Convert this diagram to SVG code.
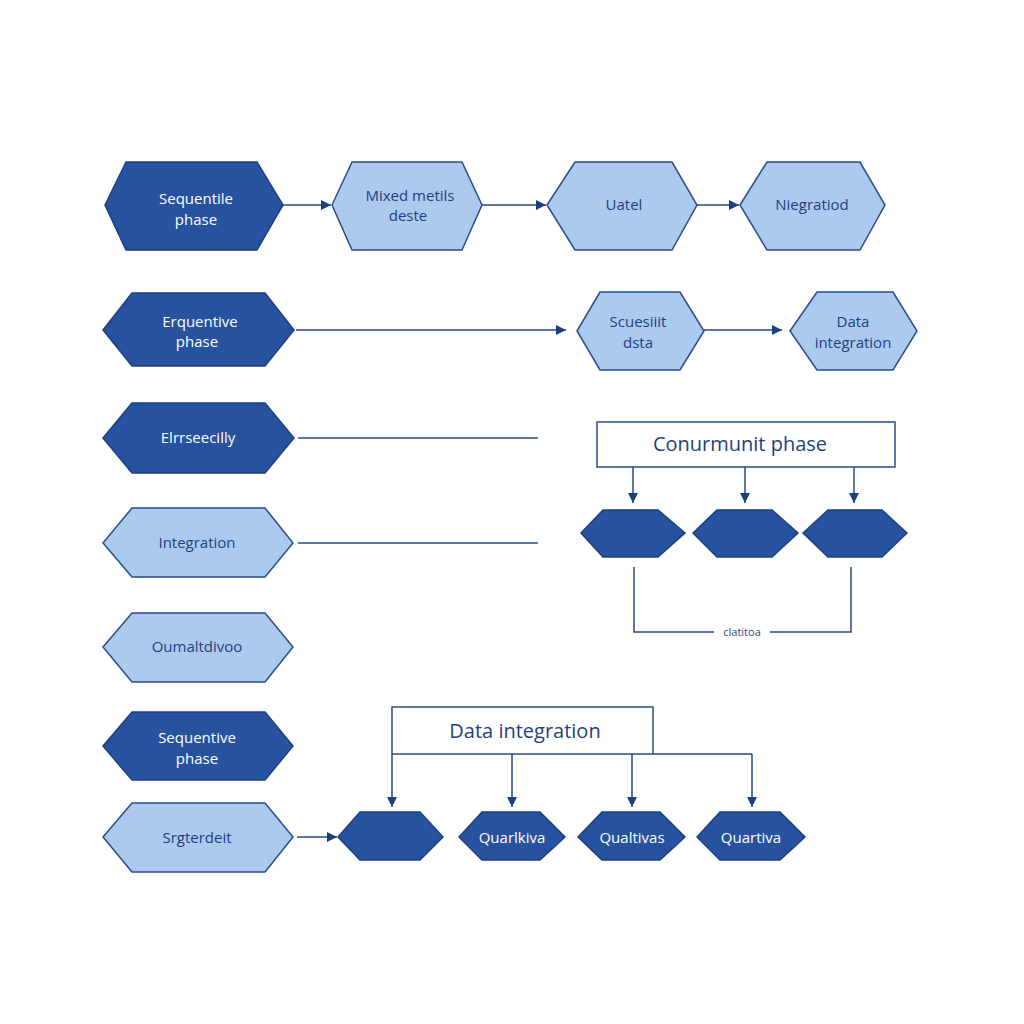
<svg xmlns="http://www.w3.org/2000/svg" width="1024" height="1024" viewBox="0 0 1024 1024">
<defs>
<style>
.dk{fill:#27529f;stroke:#1d3f82;stroke-width:1.5}
.lt{fill:#acc9ee;stroke:#2a4c8c;stroke-width:1.5}
.tw{fill:#ffffff;font-family:"Open Sans","Noto Sans",sans-serif;font-size:15px;text-anchor:middle}
.tb{fill:#253f7e;font-family:"Open Sans","Noto Sans",sans-serif;font-size:15px;text-anchor:middle}
.box{fill:#ffffff;stroke:#2a4c8c;stroke-width:1.5}
.bt{fill:#253f7e;font-family:"Open Sans","Noto Sans",sans-serif;font-size:20px;text-anchor:middle}
.cn{fill:none;stroke:#2a4880;stroke-width:1.5}
.ca{fill:none;stroke:#2a4880;stroke-width:1.5;marker-end:url(#ah)}
</style>
<marker id="ah" viewBox="0 0 10 10" refX="10" refY="5" markerWidth="10" markerHeight="10" markerUnits="userSpaceOnUse" orient="auto">
<path d="M0,0 L10,5 L0,10 z" fill="#1d3f82"/>
</marker>
</defs>
<rect width="1024" height="1024" fill="#ffffff"/>

<g id="connectors">
<line class="ca" x1="283" y1="205" x2="331" y2="205"/>
<line class="ca" x1="482" y1="205" x2="546" y2="205"/>
<line class="ca" x1="697" y1="205" x2="739" y2="205"/>
<line class="ca" x1="296" y1="330" x2="566" y2="330"/>
<line class="ca" x1="704" y1="330" x2="782" y2="330"/>
<line class="cn" x1="298" y1="438" x2="538" y2="438"/>
<line class="cn" x1="298" y1="543" x2="538" y2="543"/>
<line class="ca" x1="633" y1="467" x2="633" y2="503"/>
<line class="ca" x1="745" y1="467" x2="745" y2="503"/>
<line class="ca" x1="854" y1="467" x2="854" y2="503"/>
<path class="cn" d="M634,567 V632 H714 M770,632 H851 V567"/>
<line class="ca" x1="297" y1="837" x2="337" y2="837"/>
<line class="cn" x1="653" y1="754" x2="752" y2="754"/>
<line class="ca" x1="392" y1="754" x2="392" y2="807"/>
<line class="ca" x1="512" y1="754" x2="512" y2="807"/>
<line class="ca" x1="632" y1="754" x2="632" y2="807"/>
<line class="ca" x1="752" y1="754" x2="752" y2="807"/>
<text x="742" y="636" fill="#2a4880" font-family="'Open Sans','Noto Sans',sans-serif" font-size="11" text-anchor="middle">clatitoa</text>
</g>

<g id="n1"><polygon class="dk" points="105,205 126,162 257,162 283,205 257,250 126,250"/><text class="tw" x="196" y="204">Sequentile</text><text class="tw" x="196" y="225">phase</text></g>
<g id="n2"><polygon class="lt" points="332,205 352,162 462,162 482,205 462,250 352,250"/><text class="tb" x="410" y="201">Mixed metils</text><text class="tb" x="408" y="221">deste</text></g>
<g id="n3"><polygon class="lt" points="547,205 575,162 672,162 697,205 672,250 575,250"/><text class="tb" x="624" y="210">Uatel</text></g>
<g id="n4"><polygon class="lt" points="740,205 767,162 860,162 885,205 860,250 767,250"/><text class="tb" x="812" y="210">Niegratiod</text></g>

<g id="n5"><polygon class="dk" points="103,330 132,293 265,293 294,330 265,366 132,366"/><text class="tw" x="200" y="327">Erquentive</text><text class="tw" x="197" y="347">phase</text></g>
<g id="n6"><polygon class="lt" points="577,331 600,292 680,292 704,331 680,370 600,370"/><text class="tb" x="638" y="327">Scuesiiit</text><text class="tb" x="638" y="348">dsta</text></g>
<g id="n7"><polygon class="lt" points="790,331 817,292 893,292 917,331 893,370 817,370"/><text class="tb" x="853" y="327">Data</text><text class="tb" x="853" y="348">integration</text></g>

<g id="n8"><polygon class="dk" points="103,438 132,403 265,403 294,438 265,473 132,473"/><text class="tw" x="198" y="443">Elrrseecilly</text></g>
<g id="n9"><polygon class="lt" points="103,543 132,508 265,508 293,543 265,577 132,577"/><text class="tb" x="197" y="548">Integration</text></g>
<g id="n10"><polygon class="lt" points="103,647 132,613 265,613 293,647 265,682 132,682"/><text class="tb" x="197" y="652">Oumaltdivoo</text></g>
<g id="n11"><polygon class="dk" points="103,746 132,712 265,712 293,746 265,780 132,780"/><text class="tw" x="197" y="743">Sequentive</text><text class="tw" x="197" y="764">phase</text></g>
<g id="n12"><polygon class="lt" points="103,837 132,803 265,803 293,837 265,872 132,872"/><text class="tb" x="197" y="843">Srgterdeit</text></g>

<g id="b1"><rect class="box" x="597" y="422" width="298" height="45"/><text class="bt" x="740" y="451">Conurmunit phase</text></g>
<g id="c1"><polygon class="dk" points="581,533 603,510 658,510 685,533 658,557 603,557"/></g>
<g id="c2"><polygon class="dk" points="693,533 717,510 772,510 798,533 772,557 717,557"/></g>
<g id="c3"><polygon class="dk" points="803,533 828,510 882,510 907,533 882,557 828,557"/></g>

<g id="b2"><rect class="box" x="392" y="707" width="261" height="47"/><text class="bt" x="525" y="738">Data integration</text></g>
<g id="p1"><polygon class="dk" points="338,837 360,812 420,812 443,837 420,860 360,860"/></g>
<g id="p2"><polygon class="dk" points="459,837 482,812 540,812 565,837 540,860 482,860"/><text class="tw" x="512" y="843">Quarlkiva</text></g>
<g id="p3"><polygon class="dk" points="578,837 602,812 660,812 685,837 660,860 602,860"/><text class="tw" x="632" y="843">Qualtivas</text></g>
<g id="p4"><polygon class="dk" points="697,837 720,812 780,812 805,837 780,860 720,860"/><text class="tw" x="751" y="843">Quartiva</text></g>
</svg>
